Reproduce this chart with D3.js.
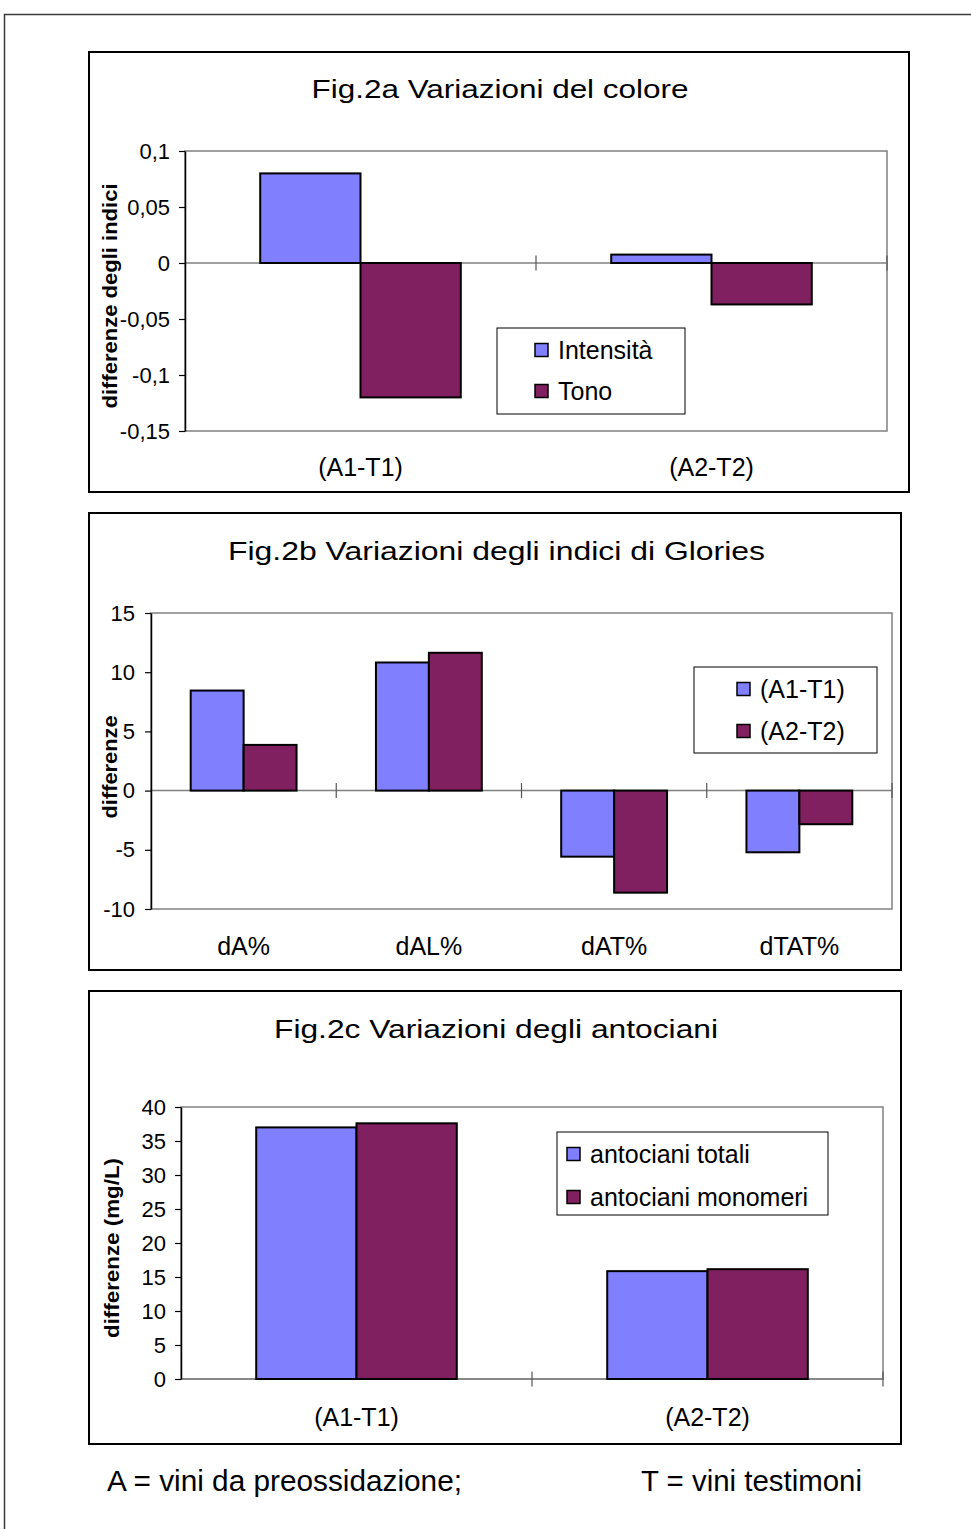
<!DOCTYPE html>
<html>
<head>
<meta charset="utf-8">
<script src="https://cdn.jsdelivr.net/npm/d3@7"></script>
<style>
  html, body { margin: 0; padding: 0; background: #ffffff; }
  svg { display: block; font-family: "Liberation Sans", Arial, sans-serif; }
</style>
</head>
<body>
<svg id="page" width="971" height="1529"></svg>
<script>
// ---- Fig.2a: colour variations ----
const colorCategories = ["(A1-T1)", "(A2-T2)"];
const colorSeries = ["Intensità", "Tono"];
const colorIntensita = [0.08, 0.0075];
const colorTono = [-0.12, -0.037];
const colorTicks = [0.1, 0.05, 0, -0.05, -0.1, -0.15];

// ---- Fig.2b: Glories indices ----
const gloriesCategories = ["dA%", "dAL%", "dAT%", "dTAT%"];
const gloriesSeries = ["(A1-T1)", "(A2-T2)"];
const gloriesA1T1 = [8.45, 10.82, -5.58, -5.21];
const gloriesA2T2 = [3.86, 11.64, -8.62, -2.84];
const gloriesTicks = [15, 10, 5, 0, -5, -10];

// ---- Fig.2c: anthocyanins ----
const antoCategories = ["(A1-T1)", "(A2-T2)"];
const antoSeries = ["antociani totali", "antociani monomeri"];
const antoTotali = [37.0, 15.86];
const antoMonomeri = [37.6, 16.15];
const antoTicks = [40, 35, 30, 25, 20, 15, 10, 5, 0];

const footerLeft = "A = vini da preossidazione;";
const footerRight = "T = vini testimoni";

const seriesColors = ["#8080ff", "#802060"];

const svg = d3.select("#page");
svg.append("rect").attr("width", 971).attr("height", 1529).attr("fill", "#fff");

// outer page frame
svg.append("rect")
  .attr("x", 4.5).attr("y", 14.5).attr("width", 980).attr("height", 1540)
  .attr("fill", "none").attr("stroke", "#3a3a3a").attr("stroke-width", 1.5);

const fmt = v => String(v).replace(".", ",");

function drawPanel(cfg) {
  const g = svg.append("g");
  // panel frame
  g.append("rect")
    .attr("x", cfg.frame[0]).attr("y", cfg.frame[1])
    .attr("width", cfg.frame[2] - cfg.frame[0]).attr("height", cfg.frame[3] - cfg.frame[1])
    .attr("fill", "#fff").attr("stroke", "#000").attr("stroke-width", 2);

  // title
  g.append("text")
    .attr("x", cfg.titleX).attr("y", cfg.titleY)
    .attr("text-anchor", "middle")
    .attr("font-size", 26)
    .attr("textLength", cfg.titleW).attr("lengthAdjust", "spacingAndGlyphs")
    .text(cfg.title);

  const [L, T, R, B] = cfg.plot;
  const y = d3.scaleLinear().domain(cfg.yDomain).range([B, T]);
  const x = d3.scaleBand().domain(cfg.categories).range([L, R]).padding(0);
  const xs = d3.scaleBand().domain(cfg.series).range([0, x.bandwidth()])
    .paddingInner(0).paddingOuter(0.75);

  // plot area border
  g.append("rect")
    .attr("x", L).attr("y", T).attr("width", R - L).attr("height", B - T)
    .attr("fill", "none").attr("stroke", "#808080").attr("stroke-width", 1.5);

  // zero line and category ticks
  const y0 = y(0);
  g.append("line")
    .attr("x1", L).attr("x2", R).attr("y1", y0).attr("y2", y0)
    .attr("stroke", "#808080").attr("stroke-width", 1.5);
  const bounds = cfg.categories.map(c => x(c)).concat([R]).slice(1);
  g.selectAll(".xtick").data(bounds).join("line")
    .attr("x1", d => d).attr("x2", d => d)
    .attr("y1", y0 - 7.5).attr("y2", y0 + 7.5)
    .attr("stroke", "#555").attr("stroke-width", 1.2);

  // bars
  cfg.series.forEach((s, si) => {
    g.selectAll(null).data(cfg.values[si]).join("rect")
      .attr("x", (d, i) => x(cfg.categories[i]) + xs(s))
      .attr("width", xs.bandwidth())
      .attr("y", d => Math.min(y(d), y0))
      .attr("height", d => Math.abs(y(d) - y0))
      .attr("fill", seriesColors[si])
      .attr("stroke", "#000").attr("stroke-width", 2);
  });

  // y axis
  const ax = g.append("g").attr("transform", `translate(${L},0)`)
    .call(d3.axisLeft(y).tickValues(cfg.ticks).tickFormat(fmt)
      .tickSize(6).tickSizeOuter(0).tickPadding(cfg.tickPad));
  ax.attr("font-size", 22).attr("font-family", "Liberation Sans, Arial, sans-serif");
  ax.select(".domain").attr("stroke", "#000").attr("stroke-width", 1.5);
  ax.selectAll(".tick line").attr("stroke", "#000").attr("stroke-width", 1.2);
  ax.selectAll(".tick text").attr("fill", "#000");

  // y axis title
  g.append("text")
    .attr("transform", `translate(${cfg.yTitle[0]},${cfg.yTitle[1]}) rotate(-90)`)
    .attr("text-anchor", "middle")
    .attr("font-size", 21).attr("font-weight", "bold")
    .attr("textLength", cfg.yTitle[2]).attr("lengthAdjust", "spacingAndGlyphs")
    .text(cfg.yLabel);

  // category labels
  g.selectAll(".cat").data(cfg.categories).join("text")
    .attr("x", d => x(d) + x.bandwidth() / 2)
    .attr("y", cfg.catY)
    .attr("text-anchor", "middle")
    .attr("font-size", 25)
    .text(d => d);

  // legend
  const lg = cfg.legend;
  g.append("rect")
    .attr("x", lg.box[0]).attr("y", lg.box[1])
    .attr("width", lg.box[2] - lg.box[0]).attr("height", lg.box[3] - lg.box[1])
    .attr("fill", "#fff").attr("stroke", "#000").attr("stroke-width", 1);
  cfg.series.forEach((s, si) => {
    const cy = lg.rows[si];
    g.append("rect")
      .attr("x", lg.swX).attr("y", cy - 6.5).attr("width", 13).attr("height", 13)
      .attr("fill", seriesColors[si]).attr("stroke", "#000").attr("stroke-width", 1.5);
    g.append("text")
      .attr("x", lg.textX).attr("y", cy + 8.5)
      .attr("font-size", 25)
      .text(s);
  });
}

drawPanel({
  frame: [89, 52, 909, 492],
  title: "Fig.2a Variazioni del colore", titleX: 500, titleY: 98, titleW: 377,
  plot: [185, 151, 887, 431],
  yDomain: [-0.15, 0.1], ticks: colorTicks, tickPad: 9,
  categories: colorCategories, series: colorSeries,
  values: [colorIntensita, colorTono],
  yLabel: "differenze degli indici", yTitle: [117, 296, 225],
  catY: 476,
  legend: { box: [497, 328, 685, 414], rows: [350, 391], swX: 535, textX: 558 }
});

drawPanel({
  frame: [89, 513, 901, 970],
  title: "Fig.2b Variazioni degli indici di Glories", titleX: 496.5, titleY: 560, titleW: 537,
  plot: [151, 613, 892, 909],
  yDomain: [-10, 15], ticks: gloriesTicks, tickPad: 10,
  categories: gloriesCategories, series: gloriesSeries,
  values: [gloriesA1T1, gloriesA2T2],
  yLabel: "differenze", yTitle: [117, 767, 103],
  catY: 955,
  legend: { box: [694, 667, 877, 753], rows: [689, 731], swX: 737, textX: 760 }
});

drawPanel({
  frame: [89, 991, 901, 1444],
  title: "Fig.2c Variazioni degli antociani", titleX: 496, titleY: 1038, titleW: 444,
  plot: [181, 1107, 883, 1379],
  yDomain: [0, 40], ticks: antoTicks, tickPad: 9,
  categories: antoCategories, series: antoSeries,
  values: [antoTotali, antoMonomeri],
  yLabel: "differenze (mg/L)", yTitle: [119, 1248, 180],
  catY: 1426,
  legend: { box: [557, 1132, 828, 1215], rows: [1154, 1197], swX: 567, textX: 590 }
});

// footer note
svg.append("text").attr("x", 107).attr("y", 1491)
  .attr("font-size", 29).attr("textLength", 355).attr("lengthAdjust", "spacingAndGlyphs")
  .text(footerLeft);
svg.append("text").attr("x", 641).attr("y", 1491)
  .attr("font-size", 29).attr("textLength", 221).attr("lengthAdjust", "spacingAndGlyphs")
  .text(footerRight);
</script>
</body>
</html>
